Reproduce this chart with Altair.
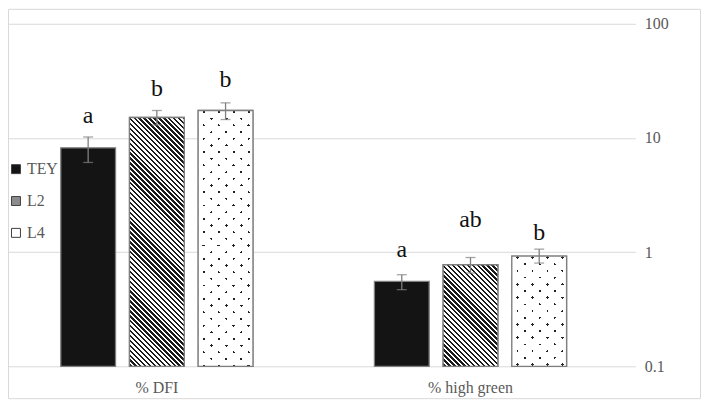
import math
import altair as alt
import pandas as pd

# ---------------- data ----------------
categories = ["% DFI", "% high green"]
treatments = ["TEY", "L2", "L4"]

dfi_mean = [8.2, 15.1, 17.4]
dfi_low = [6.1, 13.0, 14.5]
dfi_high = [10.2, 17.4, 20.3]
dfi_letters = ["a", "b", "b"]
dfi_label_at = [13.4, 23.1, 28.2]

green_mean = [0.554, 0.775, 0.923]
green_low = [0.469, 0.656, 0.802]
green_high = [0.634, 0.897, 1.062]
green_letters = ["a", "ab", "b"]
green_label_at = [0.905, 1.67, 1.28]

y_ticks = [0.1, 1, 10, 100]

rows = []
for cat, mean, lo, hi, let, lab in [
    (categories[0], dfi_mean, dfi_low, dfi_high, dfi_letters, dfi_label_at),
    (categories[1], green_mean, green_low, green_high, green_letters, green_label_at),
]:
    for i, t in enumerate(treatments):
        rows.append({"cat": cat, "trt": t, "mean": mean[i], "lo": lo[i],
                     "hi": hi[i], "letter": let[i], "ly": lab[i]})
df = pd.DataFrame(rows)

# ---------------- styles ----------------
FONT = "Liberation Serif"
GRAY_TXT = "#595959"
GRID = "#d9d9d9"
EDGE = "#7f7f7f"
PLOT_W = 622
PLOT_H = 344
PX_DEC = PLOT_H / 3.0
BAR_W = 55.0
Y_MIN = 0.1

YS = alt.Scale(type="log", domain=[0.1, 100], nice=False)
XS = alt.Scale(domain=categories, range=[-8, PLOT_W], paddingInner=0, paddingOuter=0)
XOS = alt.Scale(domain=treatments, paddingInner=0.203, paddingOuter=0.884)

Y_AX = alt.Axis(orient="right", values=y_ticks, format="~g", title=None,
                grid=True, gridColor=GRID, gridWidth=1, domain=False, ticks=False,
                labelFont=FONT, labelFontSize=16, labelColor=GRAY_TXT, labelPadding=17)
X_AX = alt.Axis(title=None, labelAngle=0, domain=False, ticks=False,
                labelFont=FONT, labelFontSize=16, labelColor=GRAY_TXT, labelPadding=13)


def X():
    return alt.X("cat:N", scale=XS, axis=X_AX)


def XO():
    return alt.XOffset("trt:N", scale=XOS)


def stripes(W, H, dx, dy, period, width, dark, light, phase=0.0):
    n = math.hypot(dx, dy)
    nx, ny = -dy / n, dx / n
    a, b = nx * W, ny * H
    corners = [a * u + b * v for u in (0, 1) for v in (0, 1)]
    c0, c1 = min(corners), max(corners)
    L = c1 - c0
    s = a * a + b * b
    p1 = (a * c0 / s, b * c0 / s)
    p2 = (p1[0] + a * L / s, p1[1] + b * L / s)
    stops = [{"offset": 0, "color": light}]
    pos = phase - period
    while pos < L:
        d0, d1 = pos, pos + width
        if d1 > 0 and d0 < L:
            o0 = round(max(d0, 0) / L, 5)
            o1 = round(min(d1, L) / L, 5)
            stops += [{"offset": o0, "color": light}, {"offset": o0, "color": dark},
                      {"offset": o1, "color": dark}, {"offset": o1, "color": light}]
        pos += period
    stops.append({"offset": 1, "color": light})
    return {"gradient": "linear", "x1": round(p1[0], 5), "y1": round(p1[1], 5),
            "x2": round(p2[0], 5), "y2": round(p2[1], 5), "stops": stops}


def bar_height(v):
    return (math.log10(v) - math.log10(Y_MIN)) * PX_DEC


def one_bar(cat, trt):
    return alt.Chart(df).transform_filter(
        (alt.datum.cat == cat) & (alt.datum.trt == trt)
    )


layers = []

# chart-area frame (decorative)
frame = alt.Chart(pd.DataFrame({"k": [0]})).mark_rect(
    filled=False, stroke=GRID, strokeWidth=1
).encode(x=alt.value(0.5), x2=alt.value(695.5), y=alt.value(-14.5), y2=alt.value(376.5))
layers.append(frame)

# base bars (legend + solid fills)
base = alt.Chart(df).mark_bar(stroke=EDGE, strokeWidth=1.3).encode(
    x=X(), xOffset=XO(),
    y=alt.Y("mean:Q", scale=YS, axis=Y_AX),
    y2=alt.datum(Y_MIN),
    color=alt.Color("trt:N", scale=alt.Scale(domain=treatments,
                                            range=["#141414", "#8c8c8c", "#ffffff"]),
                    legend=alt.Legend(orient="none", legendX=0, legendY=138, title=None,
                                      symbolType="square", symbolSize=81,
                                      symbolStrokeColor="#404040", symbolStrokeWidth=1,
                                      labelFont=FONT, labelFontSize=16,
                                      labelColor=GRAY_TXT, rowPadding=16,
                                      labelOffset=3, padding=0)),
)
layers.append(base)

# hatched L2 bars and dotted L4 bars
for cat, means in [(categories[0], dfi_mean), (categories[1], green_mean)]:
    H2 = bar_height(means[1])
    g = stripes(BAR_W, H2, 1, 1, 3.5, 1.7, "#1a1a1a", "#ffffff")
    layers.append(one_bar(cat, "L2").mark_bar(fill=g, stroke=EDGE, strokeWidth=1.3).encode(
        x=X(), xOffset=XO(), y=alt.Y("mean:Q", scale=YS, axis=Y_AX), y2=alt.datum(Y_MIN)))

    H4 = bar_height(means[2])
    g1 = stripes(BAR_W, H4, 7.5, 6.7, 10.0, 1.9, "#222222", "#ffffff", phase=3.0)
    g2 = stripes(BAR_W, H4, 7.5, -6.7, 10.0, 1.9, "rgba(255,255,255,0)", "#ffffff", phase=4.0)
    layers.append(one_bar(cat, "L4").mark_bar(fill=g1, strokeWidth=0).encode(
        x=X(), xOffset=XO(), y=alt.Y("mean:Q", scale=YS, axis=Y_AX), y2=alt.datum(Y_MIN)))
    layers.append(one_bar(cat, "L4").mark_bar(fill=g2, stroke=EDGE, strokeWidth=1.3).encode(
        x=X(), xOffset=XO(), y=alt.Y("mean:Q", scale=YS, axis=Y_AX), y2=alt.datum(Y_MIN)))

# error bars
err = alt.Chart(df).mark_rule(color=EDGE, strokeWidth=1.3).encode(
    x=X(), xOffset=XO(), y=alt.Y("lo:Q", scale=YS, axis=Y_AX), y2="hi:Q")
cap_lo = alt.Chart(df).mark_tick(color=EDGE, thickness=1.3, size=10).encode(
    x=X(), xOffset=XO(), y=alt.Y("lo:Q", scale=YS, axis=Y_AX))
cap_hi = alt.Chart(df).mark_tick(color=EDGE, thickness=1.3, size=10).encode(
    x=X(), xOffset=XO(), y=alt.Y("hi:Q", scale=YS, axis=Y_AX))
layers += [err, cap_lo, cap_hi]

# significance letters
txt = alt.Chart(df).mark_text(font=FONT, fontSize=24, color="#111111",
                              baseline="alphabetic", align="center").encode(
    x=X(), xOffset=XO(), y=alt.Y("ly:Q", scale=YS, axis=Y_AX), text="letter:N")
layers.append(txt)

chart = alt.layer(*layers).properties(
    width=PLOT_W, height=PLOT_H, padding=0, background="white"
).configure_view(stroke=None).configure_axis(
    labelFont=FONT, labelFontSize=16, labelColor=GRAY_TXT
).configure_legend(
    labelFont=FONT, labelFontSize=16, labelColor=GRAY_TXT
)

chart.save("out.html", embed_options={"renderer": "svg", "actions": False})
